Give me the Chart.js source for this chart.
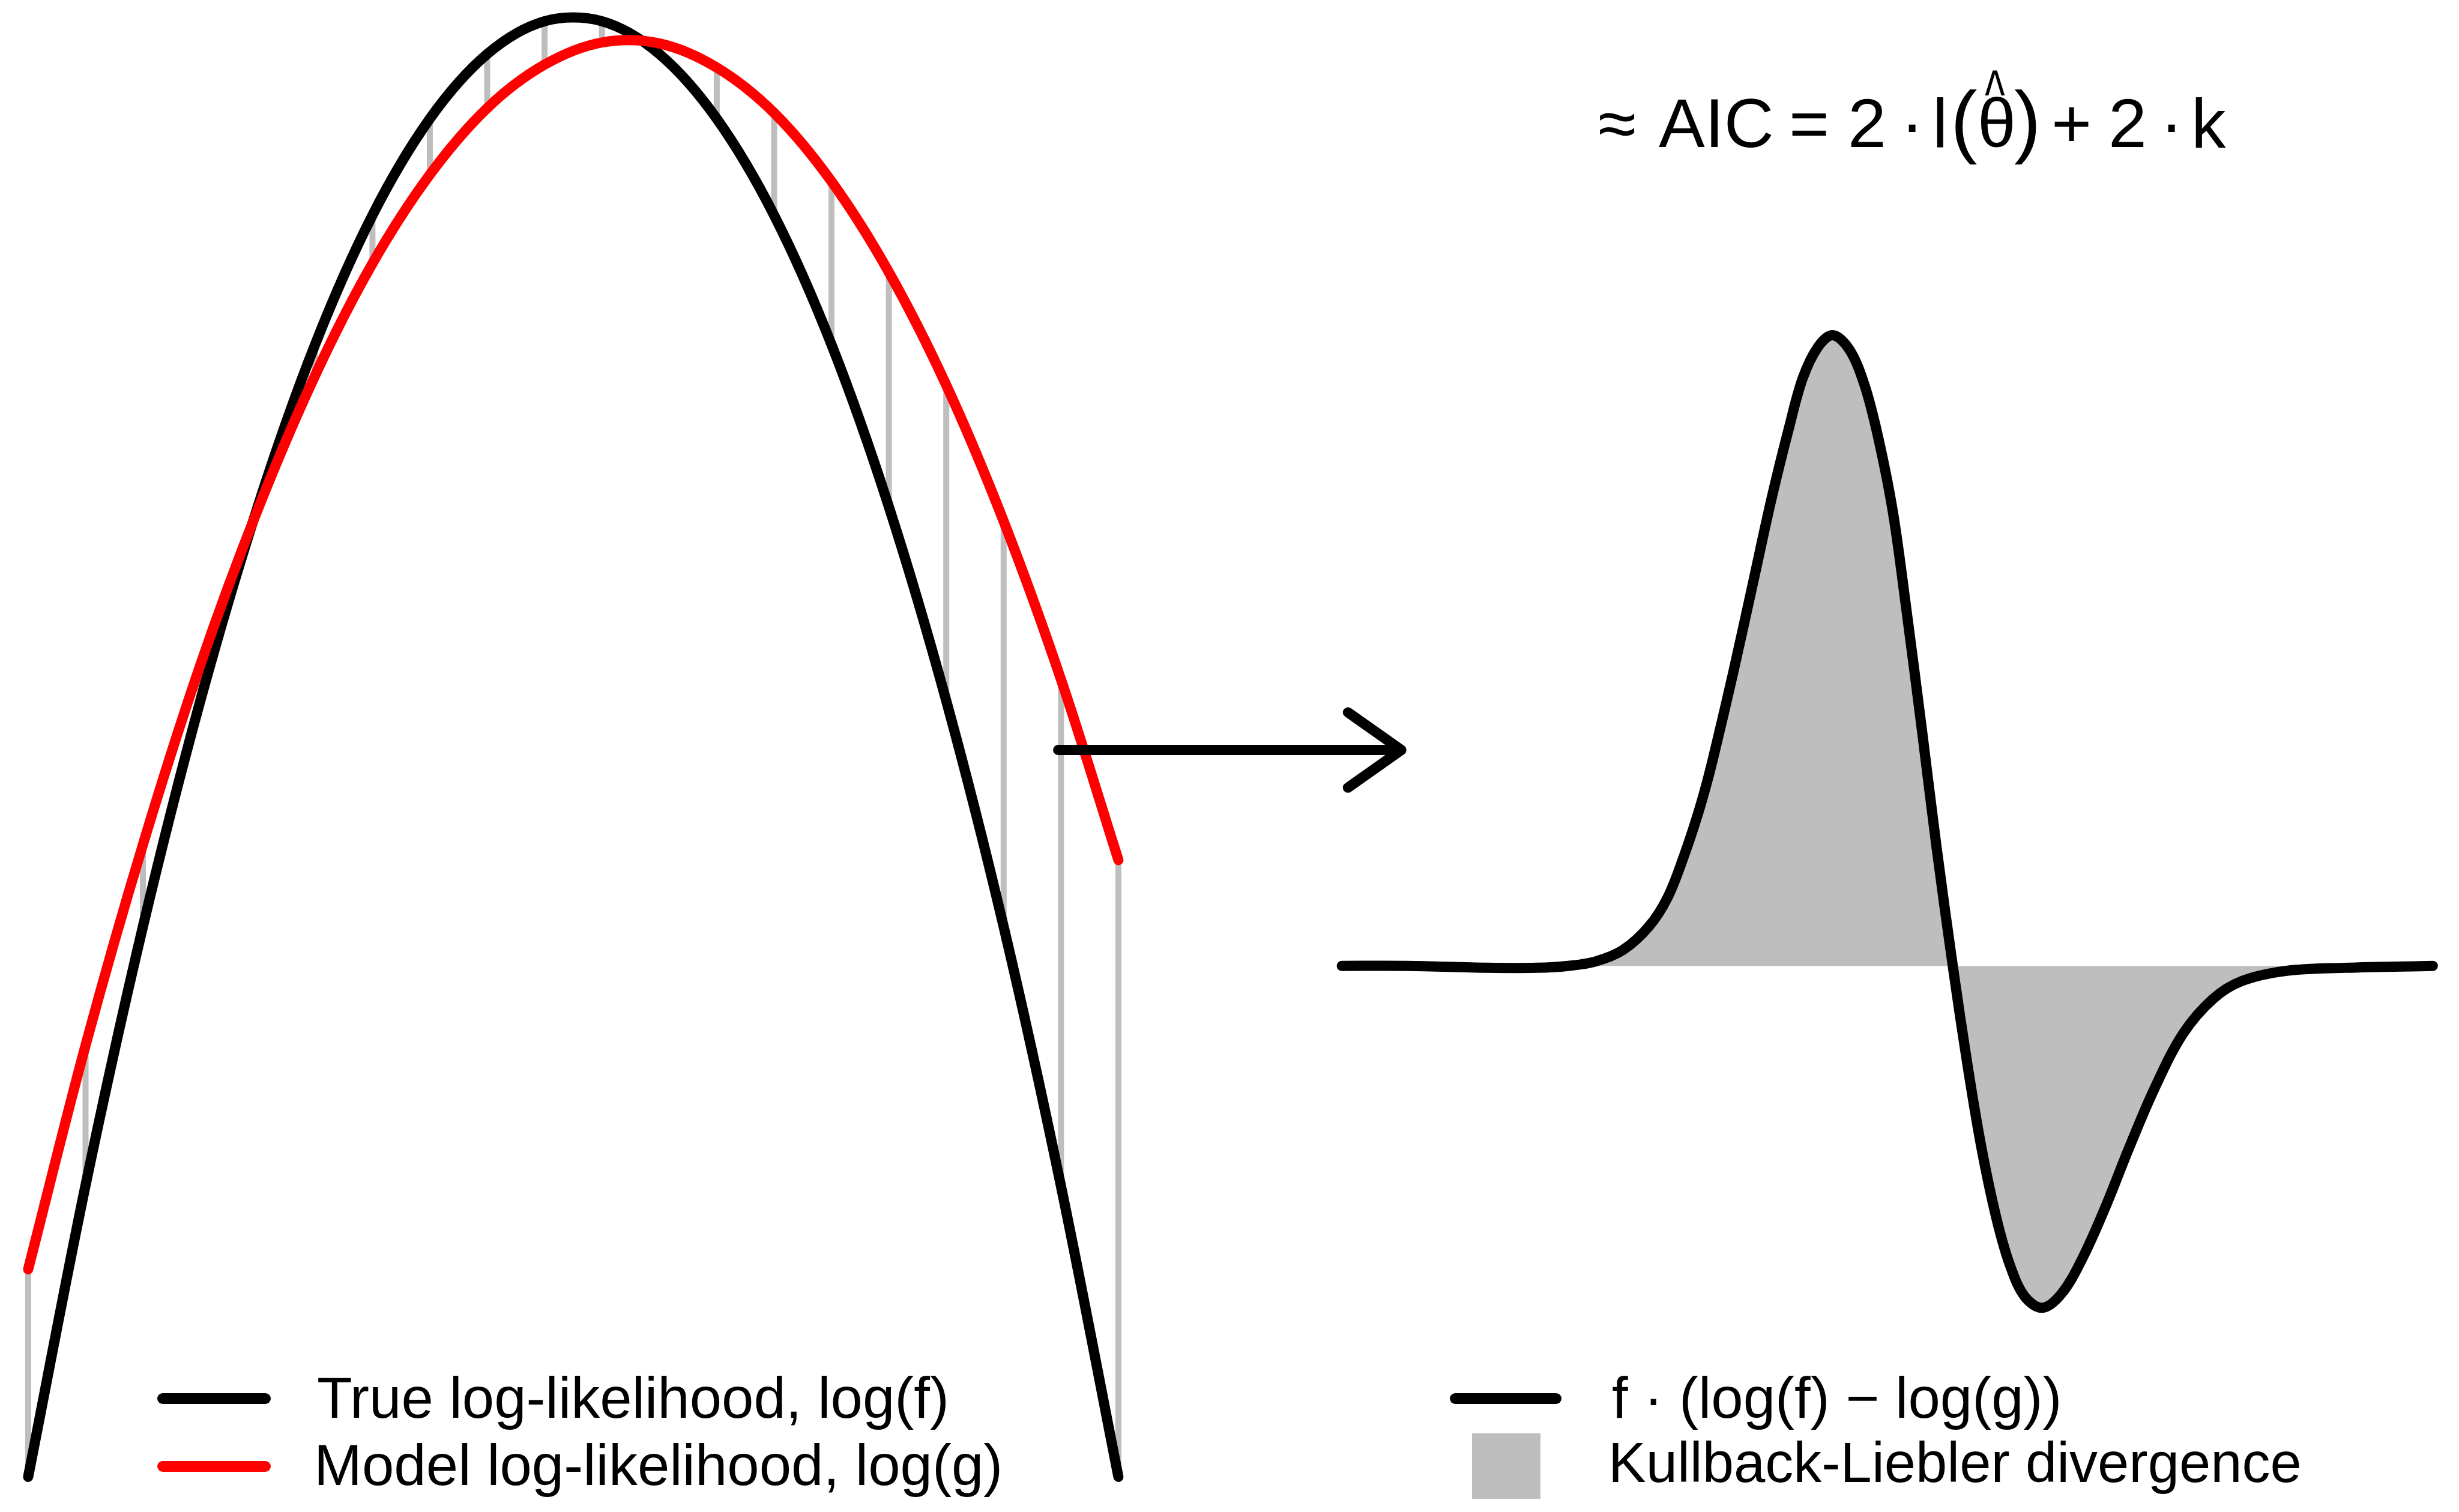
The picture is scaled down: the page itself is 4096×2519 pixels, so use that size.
<!DOCTYPE html>
<html>
<head>
<meta charset="utf-8">
<title>AIC and Kullback-Liebler divergence</title>
<script src="https://cdn.jsdelivr.net/npm/chart.js@4.4.1/dist/chart.umd.min.js"></script>
<style>
    html, body { margin: 0; padding: 0; background: #fff; overflow: hidden; }
    #wrap { position: relative; width: 4096px; height: 2519px; }
    #chartBox { position: absolute; left: 0; top: 0; width: 4096px; height: 2519px; }
    .txt { position: absolute; font-family: "Liberation Sans", Arial, sans-serif; color: #000; line-height: 1; white-space: nowrap; }
    .key { position: absolute; }
</style>
</head>
<body>
<div id="wrap">
    <div id="chartBox"><canvas id="aicChart"></canvas></div>
</div>
<script>
// left panel: log-likelihoods at 20 sample points
const sampleIdx = [0, 1, 2, 3, 4, 5, 6, 7, 8, 9, 10, 11, 12, 13, 14, 15, 16, 17, 18, 19];
const trueLogLik = [0, 302, 570, 804, 1005, 1173, 1307, 1407, 1474, 1508, 1508, 1474, 1407, 1307, 1173, 1005, 804, 570, 301, 0];
const modelLogLik = [215, 447, 655, 841, 1002, 1141, 1257, 1349, 1418, 1463, 1486, 1485, 1460, 1413, 1342, 1248, 1131, 990, 826, 639];

// right panel: f * (log(f) - log(g))
const klX = [-4.00, -3.52, -2.93, -2.57, -2.34, -2.14, -1.94, -1.75, -1.61, -1.49, -1.39, -1.32, -1.26, -1.13, -0.98,
    -0.85, -0.72, -0.62, -0.51, -0.40, -0.28, -0.17, -0.07, 0.04, 0.14, 0.255, 0.36, 0.48, 0.59, 0.69,
    0.80, 0.90, 1.01, 1.14, 1.28, 1.43, 1.60, 1.77, 1.96, 2.17, 2.39, 2.60, 2.92, 3.35, 4.00];
const klY = [0, 0, -0.003, -0.003, 0, 0.007, 0.025, 0.062, 0.109, 0.175, 0.240, 0.293, 0.345, 0.465, 0.612,
    0.740, 0.854, 0.932, 0.981, 1.000, 0.978, 0.923, 0.841, 0.721, 0.565, 0.372, 0.190, 0, -0.160, -0.288,
    -0.400, -0.475, -0.525, -0.542, -0.519, -0.464, -0.382, -0.290, -0.194, -0.107, -0.052, -0.024, -0.008, -0.003, 0];

// arrow between the panels, in left panel units
const arrowX = [17.95, 23.93];
const arrowY = 753;
const arrowHeadX = 23.0;
const arrowHeadY = [792, 714];

const legendLabels = ["True log-likelihood, log(f)", "Model log-likelihood, log(g)", "f \u00b7 (log(f) \u2212 log(g))", "Kullback-Liebler divergence"];

const GRAY = "#BEBEBE";

document.addEventListener("DOMContentLoaded", function () {
    drawChart();
    drawTexts();
});

function drawChart() {
    let segments = [];
    sampleIdx.forEach((x, i) => {
        segments.push({ x: x, y: trueLogLik[i] });
        segments.push({ x: x, y: modelLogLik[i] });
        segments.push({ x: x, y: null });
    });

    let arrowPts = [
        { x: arrowX[0], y: arrowY }, { x: arrowX[1], y: arrowY }, { x: arrowX[1], y: null },
        { x: arrowHeadX, y: arrowHeadY[0] }, { x: arrowX[1], y: arrowY }, { x: arrowHeadX, y: arrowHeadY[1] }
    ];

    const lineBase = { pointRadius: 0, borderCapStyle: "round", borderJoinStyle: "round", fill: false };

    const ctx = document.getElementById("aicChart").getContext("2d");
    new Chart(ctx, {
        type: "line",
        data: {
            datasets: [
                Object.assign({}, lineBase, {
                    label: "gaps", data: segments, xAxisID: "xL", yAxisID: "yL",
                    borderColor: GRAY, borderWidth: 10, borderCapStyle: "butt", tension: 0, order: 5
                }),
                Object.assign({}, lineBase, {
                    label: "True log-likelihood", data: sampleIdx.map((x, i) => ({ x: x, y: trueLogLik[i] })),
                    xAxisID: "xL", yAxisID: "yL", borderColor: "#000", borderWidth: 17, tension: 0.33, order: 3
                }),
                Object.assign({}, lineBase, {
                    label: "Model log-likelihood", data: sampleIdx.map((x, i) => ({ x: x, y: modelLogLik[i] })),
                    xAxisID: "xL", yAxisID: "yL", borderColor: "#FF0000", borderWidth: 17, tension: 0.33, order: 2
                }),
                Object.assign({}, lineBase, {
                    label: "KL", data: klX.map((x, i) => ({ x: x, y: klY[i] })),
                    xAxisID: "xR", yAxisID: "yR", borderColor: "#000", borderWidth: 17,
                    tension: 0.35, fill: "origin", backgroundColor: GRAY, order: 4
                }),
                Object.assign({}, lineBase, {
                    label: "arrow", data: arrowPts, xAxisID: "xL", yAxisID: "yL",
                    borderColor: "#000", borderWidth: 17, tension: 0, order: 1
                })
            ]
        },
        options: {
            responsive: true,
            maintainAspectRatio: false,
            animation: false,
            events: [],
            layout: { padding: 0 },
            plugins: { legend: { display: false }, tooltip: { enabled: false } },
            scales: {
                xL: { type: "linear", display: false, min: -0.4907, max: 42.363 },
                yL: { type: "linear", display: false, min: -36.4, max: 1530 },
                xR: { type: "linear", display: false, min: -13.839, max: 4.192 },
                yR: { type: "linear", display: false, min: -0.8659, max: 1.5316 }
            }
        }
    });
}

function placeText(str, left, baseline, size, scaleX) {
    let el = document.createElement("div");
    el.className = "txt";
    el.textContent = str;
    el.style.fontSize = size + "px";
    el.style.left = left + "px";
    el.style.top = (baseline - 0.8465 * size) + "px";
    if (scaleX) {
        el.style.transform = "scaleX(" + scaleX + ")";
    }
    document.getElementById("wrap").appendChild(el);
    return el;
}

function placeKey(left, top, width, height, color, radius) {
    let el = document.createElement("div");
    el.className = "key";
    el.style.left = left + "px";
    el.style.top = top + "px";
    el.style.width = width + "px";
    el.style.height = height + "px";
    el.style.background = color;
    el.style.borderRadius = radius + "px";
    document.getElementById("wrap").appendChild(el);
}

function drawTexts() {
    // AIC formula
    const fs = 115;
    placeText("\u2248", 2662, 245, fs);
    placeText("AIC", 2763, 245, fs);
    placeText("=", 2980, 245, fs);
    placeText("2", 3078, 245, fs);
    placeText("\u00b7", 3166, 245, fs);
    placeText("l", 3219, 245, fs);
    placeText("(", 3249, 246, 134);
    placeText("\u03b8", 3294, 245, fs);
    placeText("^", 3296, 197, fs, 0.62);
    placeText(")", 3355, 246, 134);
    placeText("+", 3417, 245, fs);
    placeText("2", 3512, 245, fs);
    placeText("\u00b7", 3598, 245, fs);
    placeText("k", 3650, 245, fs);

    // legends
    const ls = 96;
    placeKey(262, 2321, 189, 18, "#000", 9);
    placeKey(262, 2434, 189, 18, "#FF0000", 9);
    placeText(legendLabels[0], 528, 2362, ls);
    placeText(legendLabels[1], 523, 2474, ls);

    placeKey(2415, 2321, 186, 18, "#000", 9);
    placeKey(2452, 2388, 114, 109, GRAY, 0);
    placeText(legendLabels[2], 2685, 2362, ls);
    placeText(legendLabels[3], 2679, 2470, 94);
}
</script>
</body>
</html>
